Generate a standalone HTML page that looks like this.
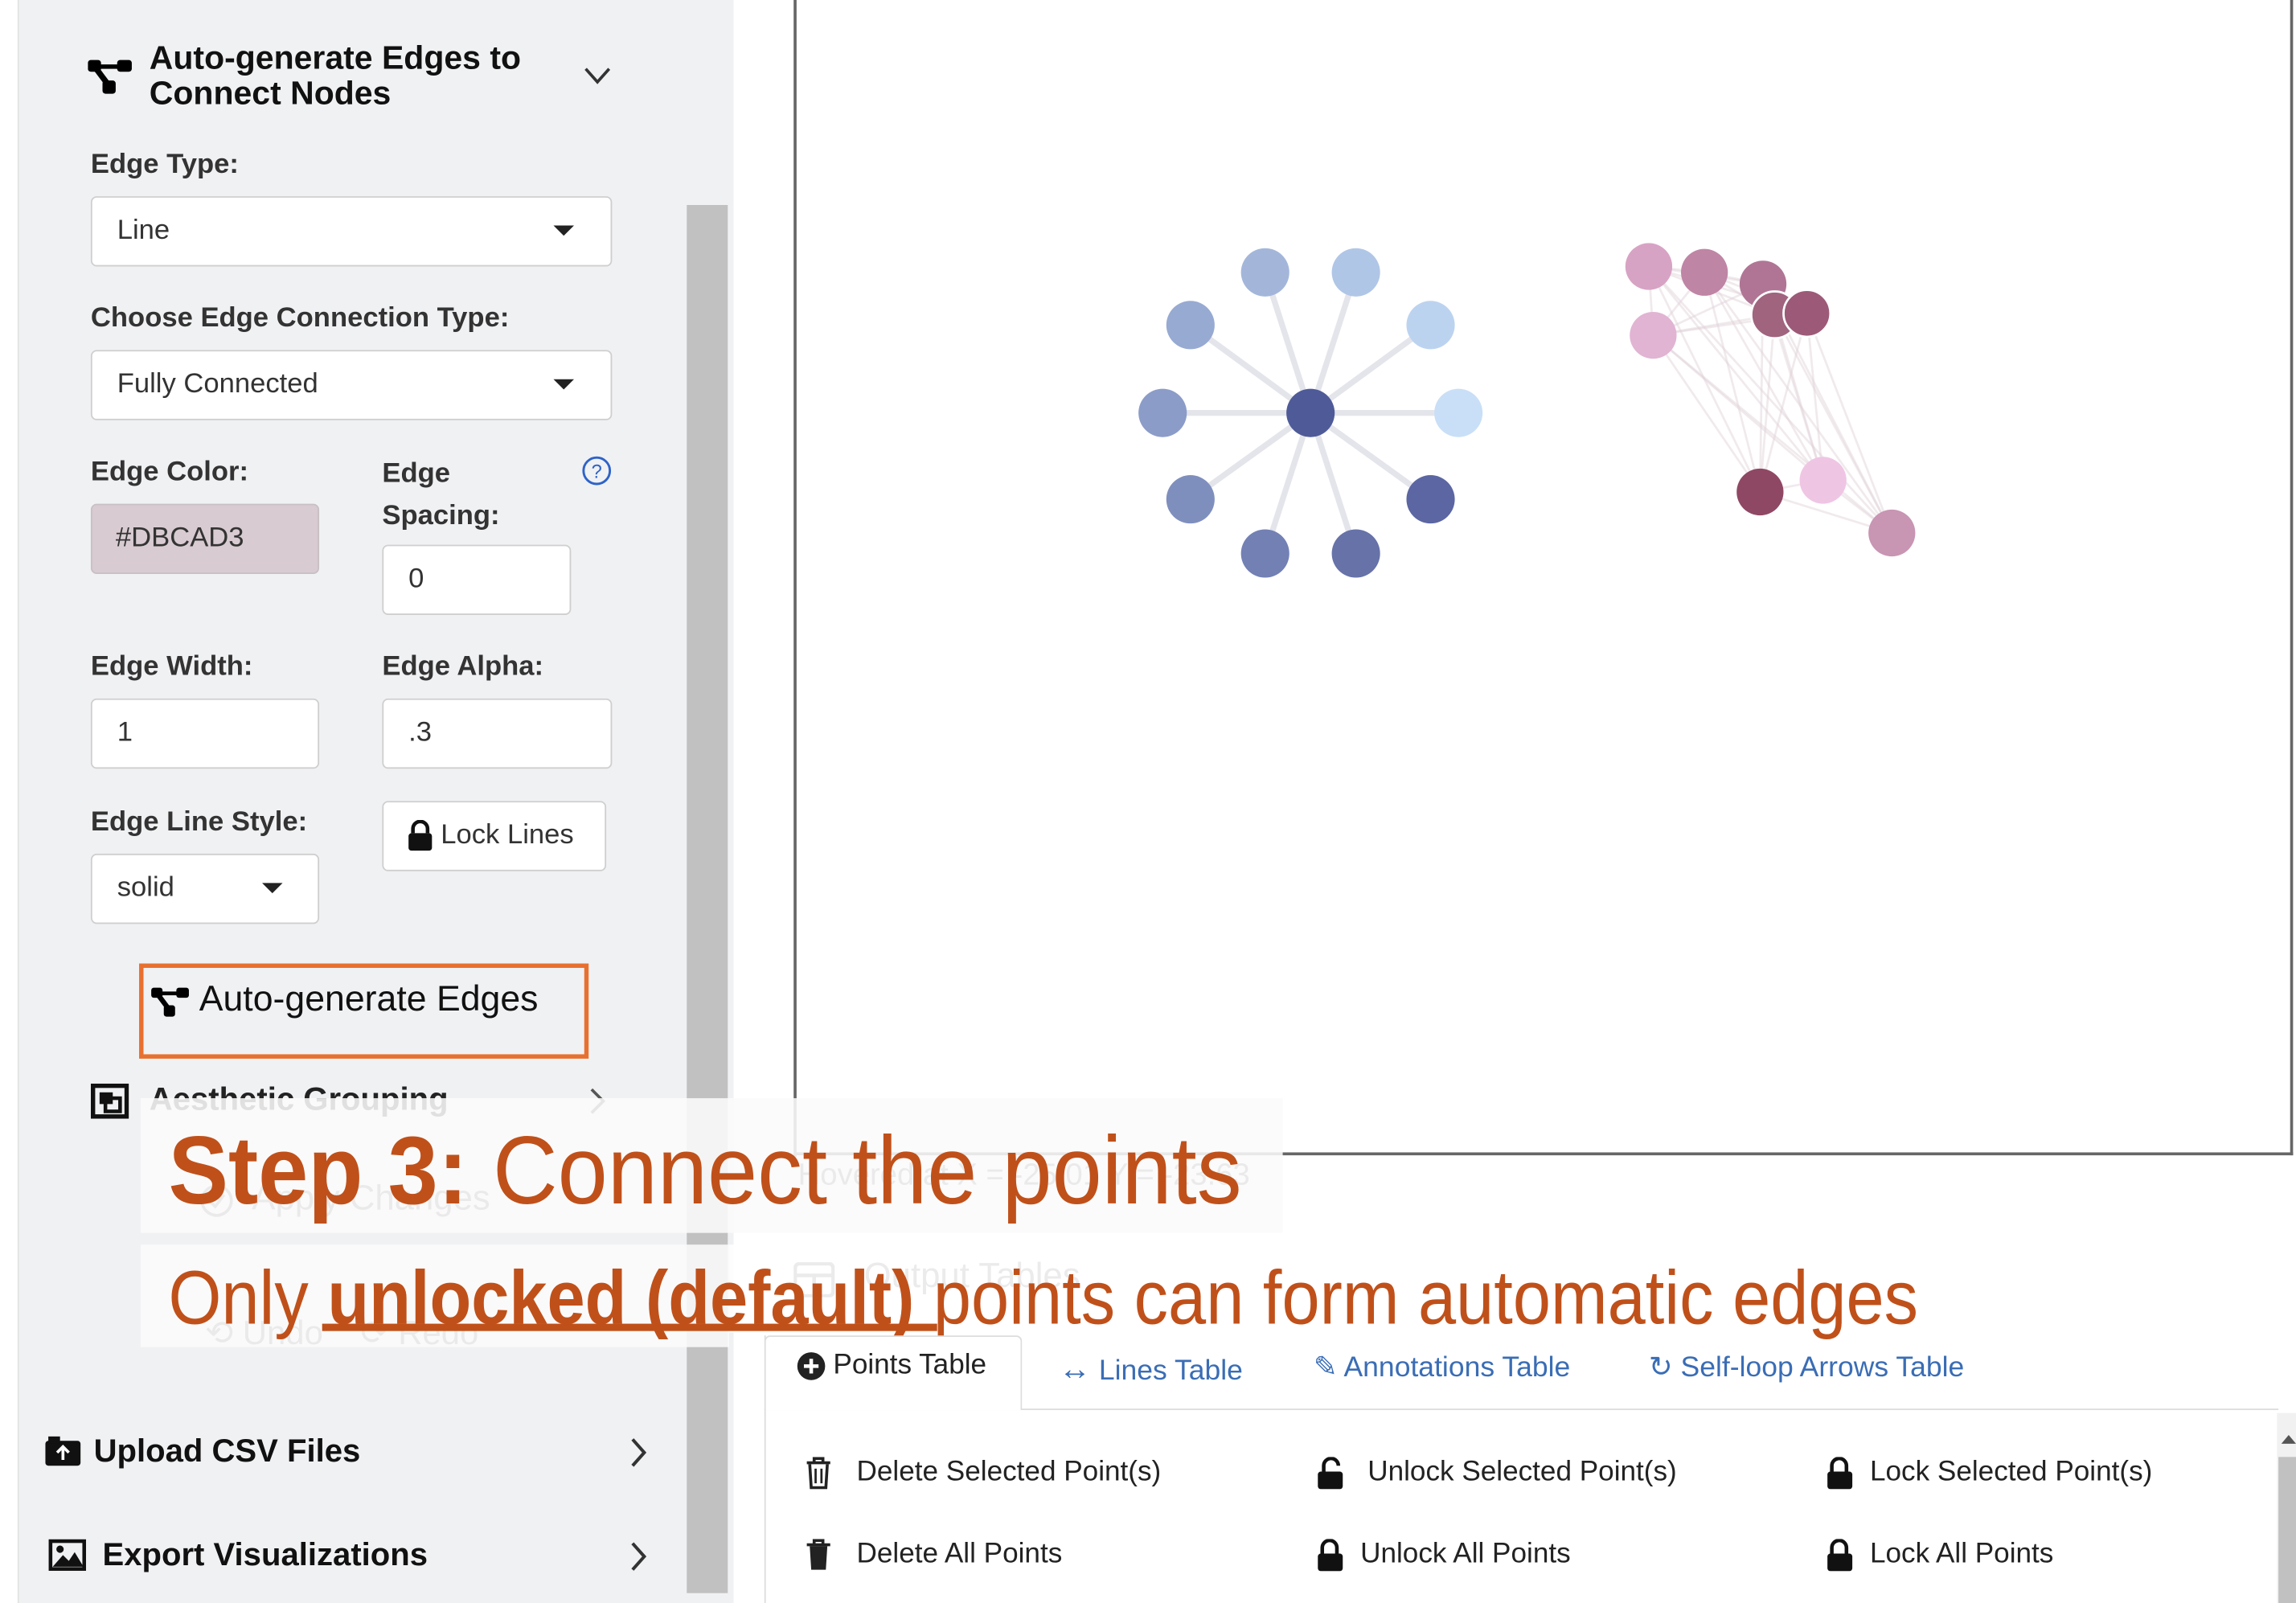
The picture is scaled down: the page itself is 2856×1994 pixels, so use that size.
<!DOCTYPE html>
<html><head><meta charset="utf-8">
<style>
html,body{margin:0;padding:0;background:#fff;}
body{width:2856px;height:1994px;overflow:hidden;position:relative;font-family:"Liberation Sans",Arial,sans-serif;}
#c{position:absolute;left:0;top:0;width:1568px;height:1095px;transform:scale(1.82143);transform-origin:0 0;}
.a{position:absolute;white-space:nowrap;}
.lbl{font-weight:bold;font-size:19px;color:#333;}
.box{position:absolute;background:#fff;border:1px solid #cfcfcf;border-radius:4px;box-sizing:border-box;}
.bt{font-size:19px;color:#333;}
.caret{position:absolute;width:0;height:0;border-left:7px solid transparent;border-right:7px solid transparent;border-top:7px solid #222;}
.tab{font-size:19.5px;color:#3a6db5;}
.row{font-size:19.3px;color:#222;}
</style></head><body><div id="c">
<div class="a" style="left:0;top:0;width:12px;height:1095px;background:#fff"></div>
<div class="a" style="left:12px;top:0;width:488px;height:1095px;background:#f0f1f3;border-left:1px solid #e2e2e2"></div>
<div class="a" style="left:469px;top:140px;width:28px;height:948px;background:#c1c1c1"></div>

<svg class="a" style="left:60px;top:38px" width="32" height="28" viewBox="0 0 32 28"><rect x="0" y="3" width="9" height="8" rx="2"/><rect x="20" y="3" width="10" height="8" rx="2"/><rect x="10" y="17" width="9" height="9" rx="2"/><rect x="5" y="6" width="20" height="3"/><path d="M5 8 L14 20" stroke="#000" stroke-width="4"/></svg>
<div class="a" style="left:102px;top:28px;font-weight:bold;font-size:22.5px;line-height:24px;color:#111">Auto-generate Edges to<br>Connect Nodes</div>
<svg class="a" style="left:399px;top:46px" width="18" height="12"><path d="M1 1 L9 10 L17 1" fill="none" stroke="#333" stroke-width="2"/></svg>

<div class="a lbl" style="left:62px;top:102px">Edge Type:</div>
<div class="box" style="left:62px;top:134px;width:356px;height:48px"></div>
<div class="a bt" style="left:80px;top:147px">Line</div>
<div class="caret" style="left:378px;top:154px"></div>

<div class="a lbl" style="left:62px;top:207px">Choose Edge Connection Type:</div>
<div class="box" style="left:62px;top:239px;width:356px;height:48px"></div>
<div class="a bt" style="left:80px;top:252px">Fully Connected</div>
<div class="caret" style="left:378px;top:259px"></div>

<div class="a lbl" style="left:62px;top:312px">Edge Color:</div>
<div class="a" style="left:62px;top:344px;width:156px;height:48px;background:#d8cbd1;border-radius:4px;border:1px solid #c8c0c4;box-sizing:border-box"></div>
<div class="a bt" style="left:79px;top:357px">#DBCAD3</div>
<div class="a lbl" style="left:261px;top:309px;line-height:29px">Edge<br>Spacing:</div>
<svg class="a" style="left:397px;top:311px" width="21" height="21"><circle cx="10.5" cy="10.5" r="9" fill="none" stroke="#2e63c9" stroke-width="1.6"/><text x="10.5" y="15.5" font-size="13" text-anchor="middle" fill="#2e63c9" font-family="Liberation Sans">?</text></svg>
<div class="box" style="left:261px;top:372px;width:129px;height:48px"></div>
<div class="a bt" style="left:279px;top:385px">0</div>

<div class="a lbl" style="left:62px;top:445px">Edge Width:</div>
<div class="a lbl" style="left:261px;top:445px">Edge Alpha:</div>
<div class="box" style="left:62px;top:477px;width:156px;height:48px"></div>
<div class="a bt" style="left:80px;top:490px">1</div>
<div class="box" style="left:261px;top:477px;width:157px;height:48px"></div>
<div class="a bt" style="left:279px;top:490px">.3</div>

<div class="a lbl" style="left:62px;top:551px">Edge Line Style:</div>
<div class="box" style="left:62px;top:583px;width:156px;height:48px"></div>
<div class="a bt" style="left:80px;top:596px">solid</div>
<div class="caret" style="left:179px;top:603px"></div>
<div class="box" style="left:261px;top:547px;width:153px;height:48px;background:#fff"></div>
<svg class="a" style="left:278px;top:560px" width="18" height="21"><path d="M4 9 V6 a5 5 0 0 1 10 0 V9" fill="none" stroke="#111" stroke-width="2.5"/><rect x="1" y="9" width="16" height="12" rx="2" fill="#111"/></svg>
<div class="a bt" style="left:301px;top:560px">Lock Lines</div>

<div class="a" style="left:95px;top:658px;width:307px;height:65px;border:3px solid #e8702f;box-sizing:border-box"></div>
<svg class="a" style="left:102px;top:672px" width="30" height="24" viewBox="0 0 32 28"><rect x="0" y="3" width="9" height="8" rx="2"/><rect x="20" y="3" width="10" height="8" rx="2"/><rect x="10" y="17" width="9" height="9" rx="2"/><rect x="5" y="6" width="20" height="3"/><path d="M5 8 L14 20" stroke="#000" stroke-width="4"/></svg>
<div class="a" style="left:136px;top:669px;font-size:24.5px;color:#111">Auto-generate Edges</div>

<svg class="a" style="left:62px;top:740px" width="26" height="24"><rect x="1.5" y="1.5" width="23" height="21" fill="none" stroke="#111" stroke-width="3"/><rect x="6" y="6" width="9" height="8" fill="#111"/><rect x="10" y="10" width="10" height="9" fill="none" stroke="#111" stroke-width="2.5"/></svg>
<div class="a" style="left:102px;top:738px;font-weight:bold;font-size:22px;color:#222">Aesthetic Grouping</div>
<svg class="a" style="left:402px;top:743px" width="12" height="18"><path d="M2 1 L10 9 L2 17" fill="none" stroke="#555" stroke-width="2"/></svg>

<svg class="a" style="left:136px;top:808px" width="24" height="24"><circle cx="12" cy="12" r="10" fill="none" stroke="#777" stroke-width="2"/><path d="M7 12 L11 16 L17 8" fill="none" stroke="#777" stroke-width="2"/></svg>
<div class="a" style="left:172px;top:805px;font-size:24px;color:#777">Apply Changes</div>
<div class="a" style="left:140px;top:897px;font-size:23px;color:#777">⟲ Undo&nbsp;&nbsp;&nbsp;&nbsp;⟳ Redo</div>

<svg class="a" style="left:30px;top:980px" width="26" height="22"><rect x="1" y="4" width="24" height="17" rx="2" fill="#111"/><rect x="3" y="1" width="8" height="5" fill="#111"/><path d="M13 17 V9 M9 12 L13 8 L17 12" stroke="#fff" stroke-width="2" fill="none"/></svg>
<div class="a" style="left:64px;top:978px;font-weight:bold;font-size:22px;color:#111">Upload CSV Files</div>
<svg class="a" style="left:430px;top:982px" width="12" height="20"><path d="M2 1 L10 10 L2 19" fill="none" stroke="#333" stroke-width="2.2"/></svg>
<svg class="a" style="left:33px;top:1051px" width="26" height="22"><rect x="1.5" y="1.5" width="23" height="19" fill="none" stroke="#111" stroke-width="2.5"/><circle cx="8" cy="7" r="2.5" fill="#111"/><path d="M3 19 L10 11 L14 15 L18 9 L24 19 Z" fill="#111"/></svg>
<div class="a" style="left:70px;top:1049px;font-weight:bold;font-size:22px;color:#111">Export Visualizations</div>
<svg class="a" style="left:430px;top:1053px" width="12" height="20"><path d="M2 1 L10 10 L2 19" fill="none" stroke="#333" stroke-width="2.2"/></svg>

<div class="a" style="left:542px;top:0;width:2px;height:790px;background:#666"></div>
<div class="a" style="left:542px;top:787px;width:1024px;height:2px;background:#666"></div>
<div class="a" style="left:1564px;top:0;width:2px;height:789px;background:#666"></div>
<svg class="a" style="left:0;top:0" width="1568" height="800">
<g stroke="#e4e5eb" stroke-width="4">
<line x1="895" y1="282" x2="864" y2="186"/><line x1="895" y1="282" x2="926" y2="186"/><line x1="895" y1="282" x2="813" y2="222"/><line x1="895" y1="282" x2="977" y2="222"/><line x1="895" y1="282" x2="794" y2="282"/><line x1="895" y1="282" x2="996" y2="282"/><line x1="895" y1="282" x2="813" y2="341"/><line x1="895" y1="282" x2="977" y2="341"/><line x1="895" y1="282" x2="864" y2="378"/><line x1="895" y1="282" x2="926" y2="378"/>
</g>
<circle cx="864" cy="186" r="16.5" fill="#a3b6da"/><circle cx="926" cy="186" r="16.5" fill="#b0c6e6"/><circle cx="813" cy="222" r="16.5" fill="#97aad2"/><circle cx="977" cy="222" r="16.5" fill="#bcd3f0"/><circle cx="794" cy="282" r="16.5" fill="#8b9cc8"/><circle cx="996" cy="282" r="16.5" fill="#c9dff7"/><circle cx="813" cy="341" r="16.5" fill="#7f8fbd"/><circle cx="977" cy="341" r="16.5" fill="#5b66a2"/><circle cx="864" cy="378" r="16.5" fill="#7280b4"/><circle cx="926" cy="378" r="16.5" fill="#6672a8"/><circle cx="895" cy="282" r="16.5" fill="#4f5b98"/>
<g stroke="#ddd0d8" stroke-width="1.5" stroke-opacity="0.45">
<line x1="1126" y1="182" x2="1164" y2="186"/><line x1="1126" y1="182" x2="1204" y2="194"/><line x1="1126" y1="182" x2="1212" y2="215"/><line x1="1126" y1="182" x2="1234" y2="214"/><line x1="1126" y1="182" x2="1129" y2="229"/><line x1="1126" y1="182" x2="1202" y2="336"/><line x1="1126" y1="182" x2="1245" y2="328"/><line x1="1126" y1="182" x2="1292" y2="364"/>
<line x1="1164" y1="186" x2="1204" y2="194"/><line x1="1164" y1="186" x2="1212" y2="215"/><line x1="1164" y1="186" x2="1234" y2="214"/><line x1="1164" y1="186" x2="1129" y2="229"/><line x1="1164" y1="186" x2="1202" y2="336"/><line x1="1164" y1="186" x2="1245" y2="328"/><line x1="1164" y1="186" x2="1292" y2="364"/>
<line x1="1204" y1="194" x2="1212" y2="215"/><line x1="1204" y1="194" x2="1234" y2="214"/><line x1="1204" y1="194" x2="1129" y2="229"/><line x1="1204" y1="194" x2="1202" y2="336"/><line x1="1204" y1="194" x2="1245" y2="328"/><line x1="1204" y1="194" x2="1292" y2="364"/>
<line x1="1212" y1="215" x2="1234" y2="214"/><line x1="1212" y1="215" x2="1129" y2="229"/><line x1="1212" y1="215" x2="1202" y2="336"/><line x1="1212" y1="215" x2="1245" y2="328"/><line x1="1212" y1="215" x2="1292" y2="364"/>
<line x1="1234" y1="214" x2="1129" y2="229"/><line x1="1234" y1="214" x2="1202" y2="336"/><line x1="1234" y1="214" x2="1245" y2="328"/><line x1="1234" y1="214" x2="1292" y2="364"/>
<line x1="1129" y1="229" x2="1202" y2="336"/><line x1="1129" y1="229" x2="1245" y2="328"/><line x1="1129" y1="229" x2="1292" y2="364"/>
<line x1="1202" y1="336" x2="1245" y2="328"/><line x1="1202" y1="336" x2="1292" y2="364"/><line x1="1245" y1="328" x2="1292" y2="364"/>
</g>
<circle cx="1126" cy="182" r="16" fill="#d7a3c4"/><circle cx="1164" cy="186" r="16" fill="#bf85a5"/><circle cx="1204" cy="194" r="16" fill="#b07595"/><circle cx="1129" cy="229" r="16" fill="#e1b4d3"/>
<circle cx="1212" cy="215" r="16" fill="#a0647f" stroke="#fff" stroke-width="1.5"/><circle cx="1234" cy="214" r="16" fill="#9c5a78" stroke="#fff" stroke-width="1.5"/>
<circle cx="1202" cy="336" r="16" fill="#8f4864"/><circle cx="1245" cy="328" r="16" fill="#efc5e4"/><circle cx="1292" cy="364" r="16" fill="#c895b3"/>
</svg>
<div class="a" style="left:545px;top:791px;font-size:21px;color:#777">Hovered at X = -25.01 Y = -23.63</div>
<svg class="a" style="left:542px;top:862px" width="28" height="24"><rect x="1" y="1" width="26" height="22" rx="3" fill="none" stroke="#777" stroke-width="2.5"/><path d="M1 9 H27 M14 9 V23" stroke="#777" stroke-width="2.5"/></svg>
<div class="a" style="left:590px;top:858px;font-size:24px;color:#777">Output Tables</div>

<div class="a" style="left:96px;top:750px;width:780px;height:92px;background:rgba(250,250,250,0.88)"></div>
<div class="a" style="left:96px;top:850px;width:402px;height:70px;background:rgba(250,250,250,0.88)"></div>
<div class="a" style="left:498px;top:850px;width:300px;height:60px;background:rgba(255,255,255,0.85)"></div>

<svg class="a" style="left:0;top:0" width="1568" height="930">
<text x="115" y="822" font-family="Liberation Sans, sans-serif" font-size="66" fill="#c0501a" textLength="733" lengthAdjust="spacingAndGlyphs"><tspan font-weight="bold">Step 3:</tspan> Connect the points</text>
<text x="115" y="904" font-family="Liberation Sans, sans-serif" font-size="52" fill="#c0501a" textLength="1195" lengthAdjust="spacingAndGlyphs">Only <tspan font-weight="bold">unlocked (default)</tspan> points can form automatic edges</text>
<rect x="220" y="904" width="420" height="5" fill="#c0501a"/>
</svg>

<div class="a" style="left:522px;top:912px;width:1px;height:183px;background:#ddd"></div>
<div class="a" style="left:522px;top:962px;width:1034px;height:1px;background:#ddd"></div>
<div class="a" style="left:522px;top:912px;width:176px;height:51px;background:#fff;border:1px solid #ddd;border-bottom:none;border-radius:4px 4px 0 0;box-sizing:border-box"></div>
<svg class="a" style="left:544px;top:923px" width="20" height="20"><circle cx="10" cy="10" r="9.5" fill="#222"/><path d="M10 5 V15 M5 10 H15" stroke="#fff" stroke-width="2.5"/></svg>
<div class="a row" style="left:569px;top:922px">Points Table</div>
<div class="a tab" style="left:723px;top:922px"><b style="font-size:22px">↔</b> Lines Table</div>
<div class="a tab" style="left:897px;top:922px">✎ Annotations Table</div>
<div class="a tab" style="left:1126px;top:922px">↻ Self-loop Arrows Table</div>
<div class="a" style="left:1555px;top:965px;width:13px;height:130px;background:#f1f1f1"></div>
<div class="a" style="left:1556px;top:995px;width:12px;height:100px;background:#c1c1c1"></div>
<div class="caret" style="left:1558px;top:980px;border-top:none;border-bottom:6px solid #555;border-left-width:5px;border-right-width:5px"></div>

<svg class="a" style="left:550px;top:995px" width="18" height="22"><path d="M1 4 H17 M6 4 V1 H12 V4" stroke="#222" stroke-width="2" fill="none"/><path d="M3 5 L4 21 H14 L15 5" fill="none" stroke="#222" stroke-width="2"/><path d="M7 8 V18 M11 8 V18" stroke="#222" stroke-width="1.5"/></svg>
<div class="a row" style="left:585px;top:995px">Delete Selected Point(s)</div>
<svg class="a" style="left:899px;top:995px" width="20" height="22"><path d="M5 10 V6 a5 5 0 0 1 10 0" fill="none" stroke="#111" stroke-width="2.5"/><rect x="1" y="10" width="17" height="12" rx="2" fill="#111"/></svg>
<div class="a row" style="left:934px;top:995px">Unlock Selected Point(s)</div>
<svg class="a" style="left:1247px;top:995px" width="20" height="22"><path d="M4 10 V6 a5 5 0 0 1 10 0 V10" fill="none" stroke="#111" stroke-width="2.5"/><rect x="1" y="10" width="17" height="12" rx="2" fill="#111"/></svg>
<div class="a row" style="left:1277px;top:995px">Lock Selected Point(s)</div>

<svg class="a" style="left:550px;top:1051px" width="18" height="22"><path d="M1 4 H17 M6 4 V1 H12 V4" stroke="#222" stroke-width="2" fill="none"/><path d="M3 5 L4 21 H14 L15 5 Z" fill="#222"/></svg>
<div class="a row" style="left:585px;top:1051px">Delete All Points</div>
<svg class="a" style="left:899px;top:1051px" width="20" height="22"><path d="M4 10 V6 a5 5 0 0 1 10 0 V10" fill="none" stroke="#111" stroke-width="2.5"/><rect x="1" y="10" width="17" height="12" rx="2" fill="#111"/></svg>
<div class="a row" style="left:929px;top:1051px">Unlock All Points</div>
<svg class="a" style="left:1247px;top:1051px" width="20" height="22"><path d="M4 10 V6 a5 5 0 0 1 10 0 V10" fill="none" stroke="#111" stroke-width="2.5"/><rect x="1" y="10" width="17" height="12" rx="2" fill="#111"/></svg>
<div class="a row" style="left:1277px;top:1051px">Lock All Points</div>
</div></body></html>
